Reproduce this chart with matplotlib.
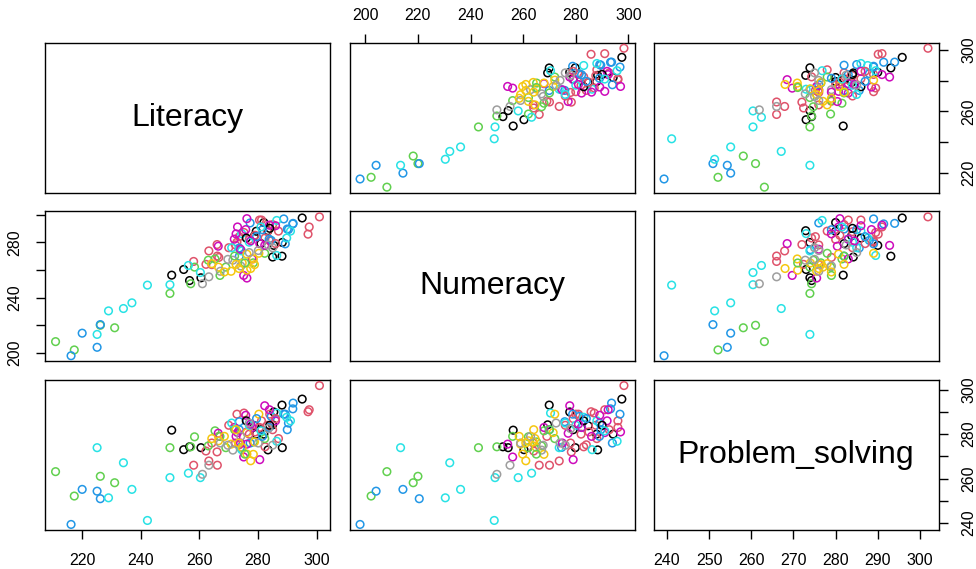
import matplotlib
matplotlib.use("Agg")
import matplotlib.pyplot as plt
import numpy as np

plt.rcParams['font.family'] = ['Liberation Sans', 'DejaVu Sans']

# Scores per country/group: literacy, numeracy, problem solving, group code (1-8)
literacy = [
    250.5, 254.6, 256.6, 260.5, 278.8, 279.4, 281.0, 282.0, 283.4, 285.0, 285.4, 288.2, 288.3, 295.1,
    258.0, 262.2, 263.2, 264.2, 266.0, 266.1, 266.6, 272.3, 272.8, 273.6, 275.2, 277.0, 280.5, 281.2,
    282.4, 283.2, 284.0, 285.0, 287.0, 297.1, 297.5, 301.0,
    210.8, 217.2, 226.1, 231.0, 249.9, 257.0, 258.3, 263.0, 265.3, 267.0, 269.0, 278.4, 282.3,
    216.1, 219.9, 225.0, 226.1, 273.6, 274.0, 273.6, 289.3, 284.5, 283.8, 290.4, 291.9, 288.8, 292.0,
    277.3, 290.0,
    225.0, 228.9, 234.0, 236.9, 242.2, 249.9, 256.2, 260.3, 286.4, 274.4, 274.4, 289.8, 286.4, 291.1,
    276.2, 275.1, 278.0, 266.4, 282.3, 280.6, 271.9, 275.8, 273.0, 286.0, 283.9, 276.2, 274.0,
    264.2, 266.5, 270.8, 276.2, 278.8, 278.4, 276.2, 274.6, 280.3, 277.5,
    261.0, 263.2, 267.1, 274.1, 271.4, 269.7, 280.1, 285.0,
    276.0, 284.0, 270.0, 279.0, 286.0, 272.0, 275.5, 279.5, 281.5, 277.0, 281.0, 271.0,
    272.5, 277.5, 272.5, 273.5, 268.5, 277.0, 283.5,
]
numeracy = [
    256.2, 260.3, 252.3, 254.3, 284.7, 287.9, 279.0, 294.2, 288.3, 269.3, 277.7, 269.9, 279.8, 297.5,
    266.1, 264.0, 273.7, 263.8, 278.3, 270.0, 269.0, 278.0, 280.0, 284.0, 287.0, 282.0, 296.0, 296.0,
    283.0, 287.6, 281.0, 292.7, 288.0, 285.8, 291.0, 298.3,
    208.2, 202.2, 220.0, 218.2, 243.0, 250.0, 262.0, 267.0, 267.9, 256.0, 262.0, 265.1, 272.0,
    198.0, 214.3, 204.1, 220.5, 269.9, 274.6, 275.8, 278.8, 281.3, 282.2, 289.1, 293.2, 296.8, 293.6,
    293.9, 289.5,
    213.4, 230.4, 232.1, 236.2, 249.0, 249.3, 263.2, 258.1, 270.4, 273.7, 286.2, 283.0, 295.7, 288.0,
    254.1, 256.0, 267.9, 277.1, 277.7, 279.0, 282.2, 289.1, 291.0, 291.9, 292.3, 297.0, 274.9,
    264.5, 262.0, 259.0, 259.8, 263.8, 267.9, 271.4, 265.0, 272.0, 261.0,
    250.0, 255.0, 259.0, 262.8, 267.0, 267.6, 274.0, 276.0,
    283.0, 290.0, 276.0, 285.0, 279.0, 270.0, 265.0, 284.0, 289.0, 280.0, 291.0, 276.0,
    286.0, 281.0, 264.0, 261.0, 258.5, 272.5, 278.0,
]
problem_solving = [
    281.8, 273.0, 274.3, 273.9, 283.8, 280.0, 282.0, 280.0, 272.9, 284.2, 290.0, 293.1, 273.9, 295.8,
    266.0, 272.4, 267.9, 276.0, 272.0, 266.0, 279.0, 276.0, 289.0, 275.2, 289.5, 280.0, 283.0, 286.0,
    274.3, 284.0, 289.0, 282.0, 278.0, 290.1, 291.0, 301.9,
    263.1, 252.1, 261.0, 258.1, 273.9, 274.3, 278.8, 274.7, 281.5, 279.0, 273.9, 276.5, 278.0,
    239.3, 255.1, 254.3, 250.9, 282.0, 274.0, 285.6, 289.0, 288.0, 283.0, 285.0, 291.4, 289.0, 294.0,
    276.0, 282.0,
    273.9, 251.3, 267.1, 255.1, 241.1, 260.4, 262.4, 260.4, 289.5, 273.9, 273.0, 287.6, 276.8, 286.0,
    275.5, 269.7, 283.0, 280.4, 292.8, 268.5, 283.0, 288.5, 280.7, 286.0, 291.0, 281.0, 276.0,
    278.0, 277.0, 275.5, 271.0, 276.5, 270.9, 280.7, 274.0, 289.0, 268.0,
    261.9, 266.0, 276.0, 279.0, 272.8, 275.0, 276.0, 275.0,
    286.0, 284.0, 284.0, 281.0, 287.0, 282.0, 271.0, 287.0, 279.0, 284.0, 281.5, 285.0,
    279.0, 284.5, 282.0, 276.0, 279.0, 285.0, 282.5,
]
group = ([1] * 14 + [2] * 22 + [3] * 13 + [4] * 16 + [5] * 14 + [6] * 13 + [7] * 10 + [8] * 8
         + [1, 1, 2, 2, 2, 3, 3, 4, 4, 5, 5, 5, 6, 6, 7, 7, 7, 8, 8])

variables = ["Literacy", "Numeracy", "Problem_solving"]

# R 4.x default palette
palette = {1: "#000000", 2: "#DF536B", 3: "#61D04F", 4: "#2297E6",
           5: "#28E2E5", 6: "#CD0BBC", 7: "#F5C710", 8: "#9E9E9E"}

data = {"Literacy": np.array(literacy),
        "Numeracy": np.array(numeracy),
        "Problem_solving": np.array(problem_solving)}
colors = [palette[g] for g in group]

ticks = {"Literacy": [220, 240, 260, 280, 300],
         "Numeracy": [200, 220, 240, 260, 280, 300],
         "Problem_solving": [240, 250, 260, 270, 280, 290, 300]}
# labels kept on vertical axes (others dropped to avoid overlap)
vlabels = {"Literacy": [220, 260, 300],
           "Numeracy": [200, 240, 280],
           "Problem_solving": [240, 260, 280, 300]}


def limits(v):
    a = data[v]
    r = a.max() - a.min()
    return a.min() - 0.04 * r, a.max() + 0.04 * r


W, H = 976, 569
fig = plt.figure(figsize=(W / 100, H / 100), dpi=100)
lefts = [45, 349.5, 653.5]
tops = [42.7, 211.3, 380.0]
pw, ph = 285, 150

tick_kw = dict(length=6.5, width=1.0, color="black", labelsize=11.5)

for i, yv in enumerate(variables):
    for j, xv in enumerate(variables):
        ax = fig.add_axes([lefts[j] / W, 1 - (tops[i] + ph) / H, pw / W, ph / H])
        for s in ax.spines.values():
            s.set_linewidth(1.0)
            s.set_color("black")
        ax.set_xlim(*limits(xv))
        ax.set_ylim(*limits(yv))
        ax.set_xticks([])
        ax.set_yticks([])
        if i == j:
            ax.text(0.5, 0.5, yv, ha="center", va="center", fontsize=23,
                    transform=ax.transAxes)
        else:
            ax.scatter(data[xv], data[yv], s=30, facecolors="none",
                       edgecolors=colors, linewidths=1.1, zorder=3)
        # axes alternate around the outside of the matrix
        if i == 0 and j % 2 == 1:
            ax.set_xticks(ticks[xv])
            ax.xaxis.set_ticks_position("top")
            ax.tick_params(axis="x", pad=8.0, **tick_kw)
        if i == 2 and j % 2 == 0:
            ax.set_xticks(ticks[xv])
            ax.xaxis.set_ticks_position("bottom")
            ax.tick_params(axis="x", pad=10.0, **tick_kw)
        if j == 0 and i % 2 == 1:
            ax.set_yticks(ticks[yv])
            ax.set_yticklabels([str(t) if t in vlabels[yv] else "" for t in ticks[yv]],
                               rotation=90, va="center")
            ax.yaxis.set_ticks_position("left")
            ax.tick_params(axis="y", pad=10.0, **tick_kw)
        if j == 2 and i % 2 == 0:
            ax.set_yticks(ticks[yv])
            ax.set_yticklabels([str(t) if t in vlabels[yv] else "" for t in ticks[yv]],
                               rotation=90, va="center")
            ax.yaxis.set_ticks_position("right")
            ax.tick_params(axis="y", pad=10.0, **tick_kw)

fig.savefig("out.png", dpi=100)
